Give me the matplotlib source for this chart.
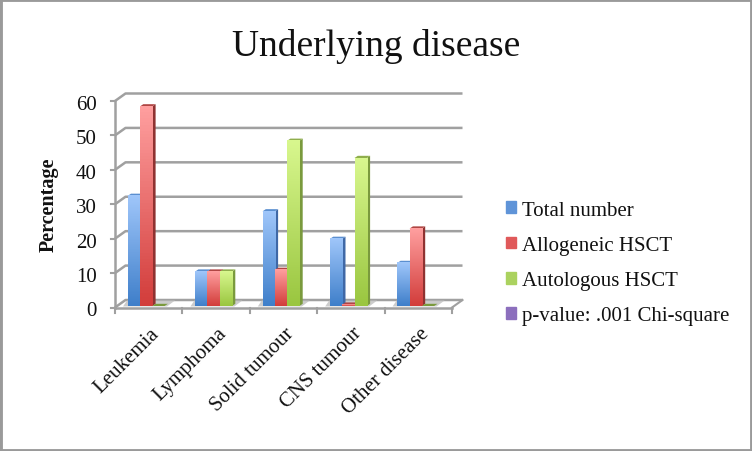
import numpy as np
import matplotlib
matplotlib.use('Agg')
import matplotlib.pyplot as plt
from matplotlib.colors import LinearSegmentedColormap
from matplotlib.patches import Patch, Rectangle

categories = ['Leukemia', 'Lymphoma', 'Solid tumour', 'CNS tumour', 'Other disease']
total_number = [32, 10, 27.5, 19.5, 12.5]
allogeneic = [58, 10, 10.5, 0.4, 22.5]
autologous = [0, 10, 48, 43, 0]
pvalue = [0, 0, 0, 0, 0]
yticks = [0, 10, 20, 30, 40, 50, 60]
series_names = ['Total number', 'Allogeneic HSCT', 'Autologous HSCT', 'p-value: .001 Chi-square']

plt.rcParams['font.family'] = ['Liberation Serif', 'DejaVu Serif']

W, H = 752, 452
fig = plt.figure(figsize=(W / 100, H / 100), dpi=100)
fig.patch.set_facecolor('white')

# front plane of the fake 3d box, in pixels
left, right, top, bottom = 115, 452, 102, 308.5
ax = fig.add_axes([left / W, 1 - bottom / H, (right - left) / W, (bottom - top) / H])
ax.set_xlim(0, 5)
ax.set_ylim(0, 60)
ax.axis('off')

px = 5 / (right - left)
py = 60 / (bottom - top)
back_x, back_y = 10.5 * px, 7.5 * py
gray = '#a0a0a0'

# walls
for v in yticks:
    ax.plot([0, back_x, 5 + back_x], [v, v + back_y, v + back_y], color=gray, lw=1.8,
            clip_on=False, zorder=1, solid_capstyle='butt')
    ax.plot([-4.5 * px, 0], [v, v], color=gray, lw=1.5, clip_on=False, zorder=1)
ax.plot([0, 5], [0, 0], color=gray, lw=1.8, clip_on=False, zorder=1)
ax.plot([5, 5 + back_x], [0, back_y], color=gray, lw=1.5, clip_on=False, zorder=1)
ax.plot([0, 0], [0, 60], color=gray, lw=1.8, clip_on=False, zorder=1)
for i in range(6):
    ax.plot([i, i], [0, -5 * py], color=gray, lw=1.5, clip_on=False, zorder=1)

cols = [('#9fc6fa', '#3f7fca', '#3f68a6', '#5b8fd0'),
        ('#ff9f9f', '#d23d3b', '#8f3231', '#b04644'),
        ('#d8f78e', '#9ac640', '#7a9a3d', '#8fae4c')]
bar_w = 12.3 * px
base = 1.5 * py
side_x, side_y = 3.3 * px, 2.2 * py

for s, values in enumerate([total_number, allogeneic, autologous]):
    top_c, bot_c, side_c, cap_c = cols[s]
    cmap = LinearSegmentedColormap.from_list('g', [bot_c, top_c])
    for i, v in enumerate(values):
        x0 = i + 12.7 * px + s * bar_w
        x1 = x0 + bar_w
        z = 5 + i * 3 + s
        # floor shadow only for the last bar drawn in a group
        if s == 2:
            ax.fill([i + 8 * px, i + 52 * px, i + 60 * px, i + 12 * px],
                    [0.3, 0.3, base + 1.6, base + 1.6], color='#c4c4c4', alpha=0.85,
                    lw=0, clip_on=False, zorder=2)
        y0 = base
        y1 = base + v
        ax.fill([x1, x1 + side_x, x1 + side_x, x1],
                [y0, y0 + side_y, y1 + side_y, y1], color=side_c, lw=0, clip_on=False, zorder=z)
        ax.fill([x0, x0 + side_x, x1 + side_x, x1],
                [y1, y1 + side_y, y1 + side_y, y1], color=cap_c if v > 0 else side_c, lw=0,
                clip_on=False, zorder=z)
        if v > 0:
            grad = np.linspace(1, 0, 64).reshape(-1, 1)
            ax.imshow(grad, extent=[x0, x1, y0, y1], cmap=cmap, aspect='auto',
                      vmin=0, vmax=1, zorder=z + 0.5, clip_on=False)
ax.set_xlim(0, 5)
ax.set_ylim(0, 60)

for v in yticks:
    ax.text(-18.5 * px, v - 3.5 * py, str(v), ha='right', va='center', fontsize=15, color='#111111', clip_on=False)
for i, c in enumerate(categories):
    ax.text(i + 0.5 + 1 * px, -16 * py, c, rotation=45, rotation_mode='anchor', ha='right', va='top',
            fontsize=15, color='#111111', clip_on=False)

fig.text(49 / W, 1 - 205 / H, 'Percentage', rotation=90, ha='center', va='center',
         fontsize=14.5, fontweight='bold', color='#111111')
fig.text(376 / W, 1 - 46 / H, 'Underlying disease', ha='center', va='center',
         fontsize=27, color='#111111')

handles = [Patch(color=c, label=n) for c, n in zip(['#5f94d8', '#e0595a', '#abd25f', '#8c6fbd'], series_names)]
ax.legend(handles=handles, loc='center left', bbox_to_anchor=(487 / W, 1 - 264 / H),
          bbox_transform=fig.transFigure, frameon=False, fontsize=15, labelspacing=0.78,
          handlelength=0.48, handleheight=0.48, handletextpad=0.31, labelcolor='#111111')

# grey picture border
fig.add_artist(Rectangle((0, 0), 1, 1, transform=fig.transFigure, fill=False,
                         edgecolor='#9a9a9a', lw=3.5))

fig.savefig('out.png', dpi=100)
